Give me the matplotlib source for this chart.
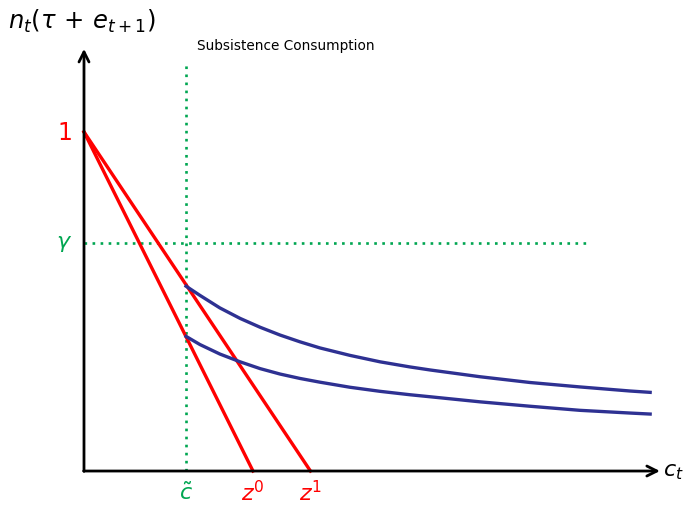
import matplotlib
matplotlib.use("Agg")
import matplotlib.pyplot as plt

plt.rcParams['mathtext.fontset'] = 'dejavusans'
plt.rcParams['font.family'] = ['DejaVu Sans']

RED = "#ff0000"
GREEN = "#00a651"
NAVY = "#2e3192"

# budget lines: intercept 1 on the vertical axis, zero at z0 / z1
z0 = 0.50
z1 = 0.67
c_tilde = 0.302
gamma = 0.673

# curves starting at the subsistence level
curve_c = [0.302, 0.343, 0.402, 0.462, 0.521, 0.580, 0.639, 0.698, 0.787,
           0.876, 0.964, 1.024, 1.172, 1.320, 1.467, 1.615, 1.675]
upper_y = [0.545, 0.518, 0.481, 0.450, 0.424, 0.401, 0.381, 0.363, 0.341,
           0.322, 0.307, 0.298, 0.278, 0.261, 0.248, 0.236, 0.232]
lower_y = [0.397, 0.373, 0.345, 0.322, 0.302, 0.286, 0.273, 0.262, 0.247,
           0.235, 0.225, 0.219, 0.204, 0.191, 0.179, 0.171, 0.168]

fig = plt.figure(figsize=(6.88, 5.10), dpi=100)
ax = fig.add_axes([0, 0, 1, 1])
ax.set_xlim(-0.2485, 1.787)
ax.set_ylim(-0.112, 1.392)
ax.axis('off')

# axes with arrow heads
ax.annotate('', xy=(0, 1.245), xytext=(0, -0.001),
            arrowprops=dict(arrowstyle='->', lw=2, color='black', mutation_scale=18, shrinkA=0, shrinkB=0))
ax.annotate('', xy=(1.704, 0), xytext=(-0.001, 0),
            arrowprops=dict(arrowstyle='->', lw=2, color='black', mutation_scale=18, shrinkA=0, shrinkB=0))

# subsistence consumption and gamma guides
dots = (0, (1.0, 2.05))
ax.plot([c_tilde, c_tilde], [0, 1.206], color=GREEN, lw=1.9, linestyle=dots, dash_capstyle='butt')
ax.plot([0, 1.497], [gamma, gamma], color=GREEN, lw=1.9, linestyle=dots, dash_capstyle='butt')

# budget lines
ax.plot([0, z0], [1, 0], color=RED, lw=2.4)
ax.plot([0, z1], [1, 0], color=RED, lw=2.4)

# curves
ax.plot(curve_c, upper_y, color=NAVY, lw=2.4, solid_joinstyle='round')
ax.plot(curve_c, lower_y, color=NAVY, lw=2.4, solid_joinstyle='round')

# labels
ax.text(-0.225, 1.33, r'$n_t(\tau\,+\,e_{t+1})$', fontsize=17.5, ha='left', va='center')
ax.text(0.335, 1.256, 'Subsistence Consumption', fontsize=9.8, ha='left', va='center')
ax.text(1.713, 0.0, r'$c_t$', fontsize=16, ha='left', va='center')
ax.text(-0.035, 1.0, '1', fontsize=17, color=RED, ha='right', va='center')
ax.text(-0.035, gamma, r'$\gamma$', fontsize=16, color=GREEN, ha='right', va='center')
ax.text(c_tilde, -0.062, r'$\tilde{c}$', fontsize=16, color=GREEN, ha='center', va='center')
ax.text(z0, -0.062, r'$z^0$', fontsize=16, color=RED, ha='center', va='center')
ax.text(z1, -0.062, r'$z^1$', fontsize=16, color=RED, ha='center', va='center')

fig.savefig('out.png', dpi=100)
